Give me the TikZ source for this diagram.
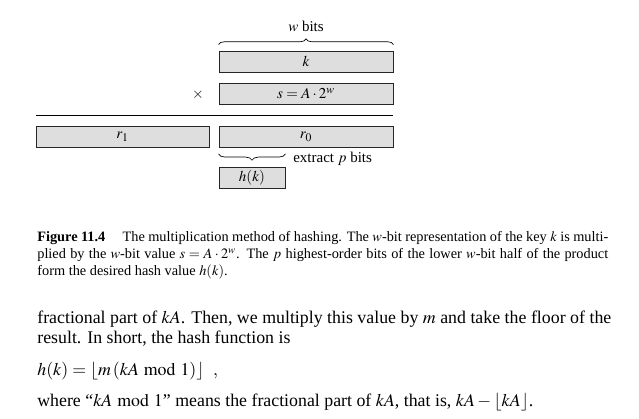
\documentclass[tikz,border=0pt]{standalone}
\usepackage{mathptmx}
\usepackage{fontspec}
\setmainfont{Liberation Serif}
\usetikzlibrary{decorations.pathreplacing}

\begin{document}
\begin{tikzpicture}[x=0.6pt,y=-0.6pt,
  bitbox/.style={draw=black!85,fill=black!13,line width=0.5pt,inner sep=0pt,
    minimum height=12.6pt,font=\small},
  bitbrace/.style={decorate,decoration={brace,amplitude=#1}}]
\useasboundingbox (0,0) rectangle (639,419);
% the product k * s
\node[bitbox,minimum width=104.4pt] (k) at (306,61.5) {$k$};
\node[bitbox,minimum width=104.4pt] (s) at (306,93.5) {$s = A\cdot 2^w$};
\node[font=\small] (times) at (198,95) {$\times$};
\draw[bitbrace=3.4pt] ([yshift=3.6pt]k.north west) -- ([yshift=3.6pt]k.north east)
  node[midway,above=4pt,font=\small] (wbits) {$w$ bits};
\draw[line width=0.5pt] (36,115) -- (s.south east |- 0,115);
\node[bitbox,minimum width=103.8pt] (r1) at (122.5,137) {$r_1$};
\node[bitbox,minimum width=104.4pt] (r0) at (306,137) {$r_0$};
\node[bitbox,minimum width=39.6pt] (hk) at (252,177.5) {$h(k)$};
\draw[bitbrace=3.8pt] ([yshift=-3.6pt]hk.east |- r0.south) -- ([yshift=-3.6pt]r0.south west)
  node[midway] (tip) {};
\node[anchor=west,inner sep=0pt,font=\small] (extract) at (293,159) {extract $p$ bits};
% caption
\node[anchor=north west,inner sep=0pt,text width=342.6pt,align=justify,
  font=\fontsize{8.6}{10.2}\selectfont] (caption) at (37,231)
  {\textbf{Figure 11.4}\hspace{1.2em}The multiplication method of hashing. The $w$-bit representation of the key $k$ is multi-\linebreak
   plied by the $w$-bit value $s = A\cdot 2^w$. The $p$ highest-order bits of the lower $w$-bit half of the product\linebreak
   form the desired hash value $h(k)$.};
% running text
\node[anchor=north west,inner sep=0pt,text width=344.4pt,align=justify,
  font=\fontsize{10.7}{12}\selectfont] (para) at (37,311)
  {fractional part of $kA$. Then, we multiply this value by $m$ and take the floor of the\linebreak
   result. In short, the hash function is};
\node[anchor=base west,inner sep=0pt,font=\fontsize{10.7}{12}\selectfont] (eq) at (37,375)
  {$h(k) = \lfloor m\,(kA \bmod 1)\rfloor\ \ ,$};
\node[anchor=base west,inner sep=0pt,font=\fontsize{10.7}{12}\selectfont] (where) at (37,406)
  {where ``$kA \bmod 1$'' means the fractional part of $kA$, that is, $kA - \lfloor kA\rfloor$.};
\end{tikzpicture}
\end{document}
